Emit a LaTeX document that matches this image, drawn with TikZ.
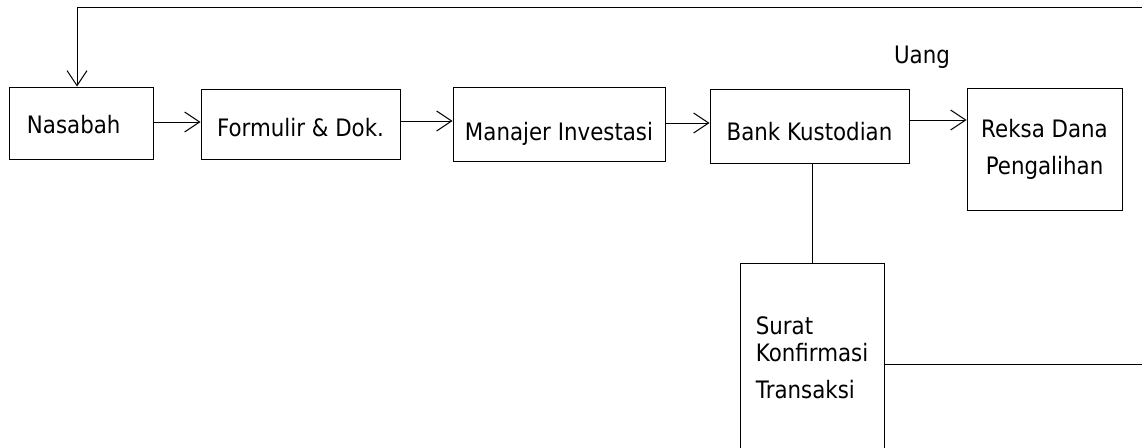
\documentclass[tikz,border=0pt]{standalone}
\usepackage{fontspec}
\setmainfont[FakeStretch=0.89]{DejaVu Sans}
\usetikzlibrary{arrows.meta,positioning,calc}

\begin{document}
\begin{tikzpicture}[
    x=1pt, y=-1pt,
    box/.style={rectangle, draw, line width=1pt, inner sep=0pt, align=center, font=\fontsize{24}{37}\selectfont},
    lowtext/.style={text depth=0pt, text height=#1},
    arrow/.style={-{Straight Barb[length=15pt,width=20pt]}, line width=1pt}
]
    \clip (0,0) rectangle (1142,447);
    \useasboundingbox (0,0) rectangle (1142,447);

    \node[box, lowtext=20pt, text width=108pt, align=left, minimum width=144pt, minimum height=72pt] (nasabah) at (81,123) {Nasabah};
    \node[box, lowtext=24pt, minimum width=199pt, minimum height=70pt] (formulir) at (300.5,124) {Formulir \& Dok.};
    \node[box, lowtext=32pt, minimum width=212pt, minimum height=74pt] (manajer) at (559,124) {Manajer Investasi};
    \node[box, lowtext=28pt, minimum width=199pt, minimum height=74pt] (bank) at (809.5,126) {Bank Kustodian};
    \node[box, minimum width=155pt, minimum height=122pt] (reksa) at (1044.5,149) {Reksa Dana\\Pengalihan};
    \node[box, minimum width=144pt, minimum height=190pt, align=left] (surat) at (812,358) {Surat\\[-10pt]Konfirmasi\\Transaksi};
    \node[font=\fontsize{24}{37}\selectfont] (uang) at (922,57) {Uang};

    \coordinate (topR) at (1142,7);
    \coordinate (rightR) at (1142,364);

    \draw[arrow] (nasabah.east |- 0,122) -- (formulir.west |- 0,122);
    \draw[arrow] (formulir.east |- 0,121) -- (manajer.west |- 0,121);
    \draw[arrow] (manajer.east |- 0,123) -- (bank.west |- 0,123);
    \draw[arrow] (bank.east |- 0,120) -- (reksa.west |- 0,120);
    \draw[line width=1pt] (surat.north |- bank.south) -- (surat.north);
    \draw[line width=1pt] (surat.east |- rightR) -- (rightR);
    \draw[arrow] (topR) -| ([xshift=-4pt]nasabah.north);
\end{tikzpicture}
\end{document}
